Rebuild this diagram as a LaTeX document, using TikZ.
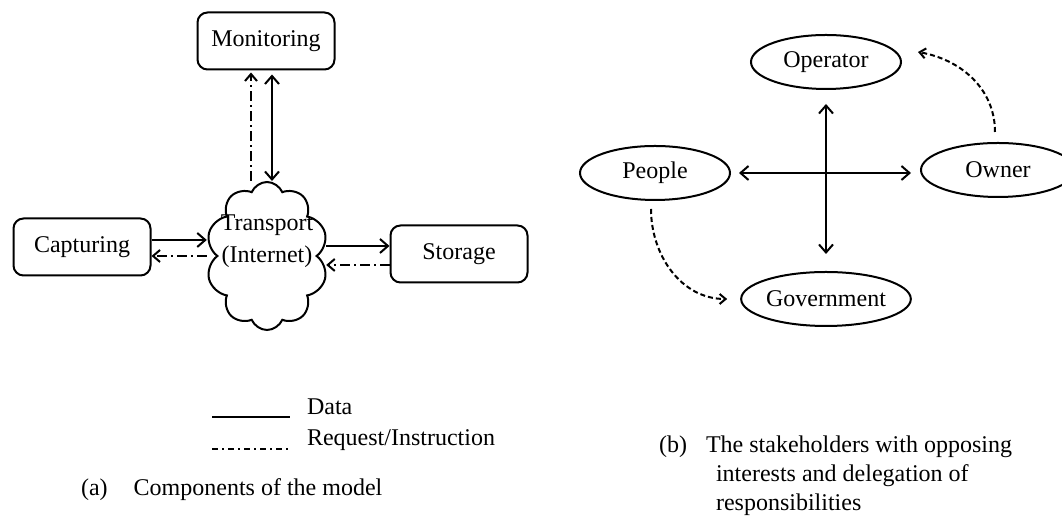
\documentclass[tikz,border=0pt]{standalone}
\usepackage{fontspec}
\setmainfont{Liberation Serif}
\usepackage{tikz}
\usetikzlibrary{arrows.meta,shapes.geometric,shapes.symbols,positioning}

\tikzset{
  unit/.style={draw, line width=1pt, rounded corners=5pt, minimum width=68.5pt, minimum height=28.5pt},
  party/.style={draw, line width=1pt, ellipse, minimum width=75pt, minimum height=27pt, inner sep=0pt},
  data/.style={line width=1pt, ->},
  request/.style={line width=1pt, dash pattern=on 5pt off 2pt on 1pt off 2pt, -{Straight Barb[length=3.5pt,width=6pt]}},
  delegate/.style={line width=1pt, dash pattern=on 2.5pt off 1.5pt, -{Straight Barb[length=3pt,width=5pt]}},
}

\begin{document}
\begin{tikzpicture}[x=0.5pt, y=-0.5pt, font=\fontsize{12}{14.5}\selectfont, >={Straight Barb[length=4pt,width=7pt]}]
                \clip (0,0) rectangle (1062,522);
                % (a) components
                \node[unit] (monitor) at (266,41) {Monitoring};
                \node[unit] (capture) at (82,247) {Capturing};
                \node[unit] (storage) at (459,254) {Storage};
                \node[cloud, draw, line width=1pt, cloud puffs=10, cloud puff arc=135, cloud ignores aspect, minimum width=61pt, minimum height=74pt] (transport) at (267,256) {};
                \node[align=center, inner sep=0pt] (translbl) at (267,241) {Transport\\[1.5pt](Internet)};
                \coordinate (tleft) at ([xshift=-4.5pt]transport.west);
                \coordinate (tright) at ([xshift=4pt]transport.east);
                \draw[data] ([yshift=3.5pt]capture.east) -- ([yshift=3.5pt]capture.east -| tleft);
                \draw[request] ([yshift=-4.5pt]capture.east -| tleft) -- ([yshift=-4.5pt]capture.east);
                \draw[data] ([yshift=4pt]storage.west -| tright) -- ([yshift=4pt]storage.west);
                \draw[request] ([yshift=-5.5pt]storage.west) -- ([yshift=-5.5pt]storage.west -| tright);
                \draw[data, <->, shorten <=2pt] ([xshift=3pt]monitor.south) -- ([xshift=3pt]monitor.south |- transport.north);
                \draw[request, shorten >=1pt] ([xshift=-7.5pt]monitor.south |- transport.north) -- ([xshift=-7.5pt]monitor.south);
                % legend
                \node[anchor=west] (datakey) at (300,407) {Data};
                \node[anchor=west] (reqkey) at (300,440) {Request/Instruction};
                \draw[line width=1pt] ([xshift=-44pt,yshift=-5pt]datakey.west) -- ++(39pt,0);
                \draw[line width=1pt, dash pattern=on 3pt off 2pt on 1pt off 2pt] ([xshift=-44pt,yshift=-4.5pt]reqkey.west) -- ++(39pt,0);
                \node[anchor=west] (capa) at (74,490) {(a)\hspace{13pt}Components of the model};
                % (b) stakeholders
                \node[party] (operator) at (826,62) {Operator};
                \node[party] (people) at (655,173) {People};
                \node[party, minimum width=77pt] (owner) at (998,170) {Owner};
                \node[party, minimum width=76pt] (government) at (826,299) {Government};
                \draw[data, <->, shorten <=4pt, shorten >=4.5pt] (people.east) -- (people.east -| owner.west);
                \draw[data, <->, shorten <=7pt, shorten >=8.5pt] (operator.south) -- (government.north);
                \draw[delegate] ([xshift=-1.5pt, yshift=5pt]owner.north) to[out=90, in=-10] ([xshift=8pt, yshift=5pt]operator.east);
                \draw[delegate] ([xshift=-2pt, yshift=-4pt]people.south) to[out=-90, in=180] ([xshift=-6.5pt]government.west);
                \node[anchor=west] (capb) at (652,447) {(b)};
                \node[anchor=west, align=left] (capbtext) at (699,476) {The stakeholders with opposing\\\hspace*{5pt}interests and delegation of\\\hspace*{5pt}responsibilities};
            \end{tikzpicture}
\end{document}
